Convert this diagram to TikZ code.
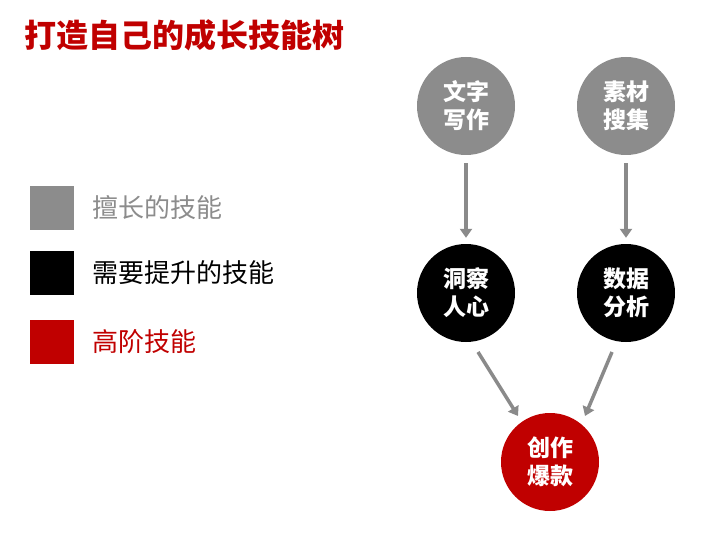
\documentclass[tikz,border=0pt]{standalone}
\usepackage{fontspec}
\setmainfont{Noto Sans CJK SC}
\usetikzlibrary{arrows.meta}
\definecolor{myred}{HTML}{C00000}
\definecolor{mygray}{HTML}{8C8C8C}
\definecolor{arrgray}{HTML}{8A8A8A}
\begin{document}
\begin{tikzpicture}[x=1pt,y=-1pt,
  skill/.style={circle,minimum size=98pt,inner sep=0pt,text=white,font=\fontsize{23}{28}\selectfont\bfseries,align=center},
  legbox/.style={minimum size=44pt,inner sep=0pt},
  leglabel/.style={anchor=west,font=\fontsize{26}{30}\selectfont},
  arr/.style={draw=arrgray,line width=3.5pt,-{Triangle[length=9pt,width=12pt]}}]
\useasboundingbox (0,0) rectangle (720,540);
\node[anchor=west,inner sep=0pt,text=myred,font=\fontsize{32}{36}\selectfont\bfseries] (title) at (24,35) {打造自己的成长技能树};
\node[legbox,fill=mygray] (l1) at (52,208) {};
\node[legbox,fill=black] (l2) at (52,273) {};
\node[legbox,fill=myred] (l3) at (52,342) {};
\node[leglabel,inner sep=0pt,text=mygray] (t1) at (92,208) {擅长的技能};
\node[leglabel,inner sep=0pt,text=black] (t2) at (92,273) {需要提升的技能};
\node[leglabel,inner sep=0pt,text=myred] (t3) at (92,342) {高阶技能};
\node[skill,fill=mygray] (a) at (466,106) {文字\\写作};
\node[skill,fill=mygray] (b) at (626,106) {素材\\搜集};
\node[skill,fill=black] (c) at (466,293) {洞察\\人心};
\node[skill,fill=black] (d) at (626,293) {数据\\分析};
\node[skill,fill=myred] (e) at (550,462) {创作\\爆款};
\draw[arr] ([yshift=-8pt]a.south) -- ([yshift=6pt]c.north);
\draw[arr] ([yshift=-8pt]b.south) -- ([yshift=6pt]d.north);
\draw[arr] (478,352) -- (518,416);
\draw[arr] (612,352) -- (585,416);
\end{tikzpicture}
\end{document}
